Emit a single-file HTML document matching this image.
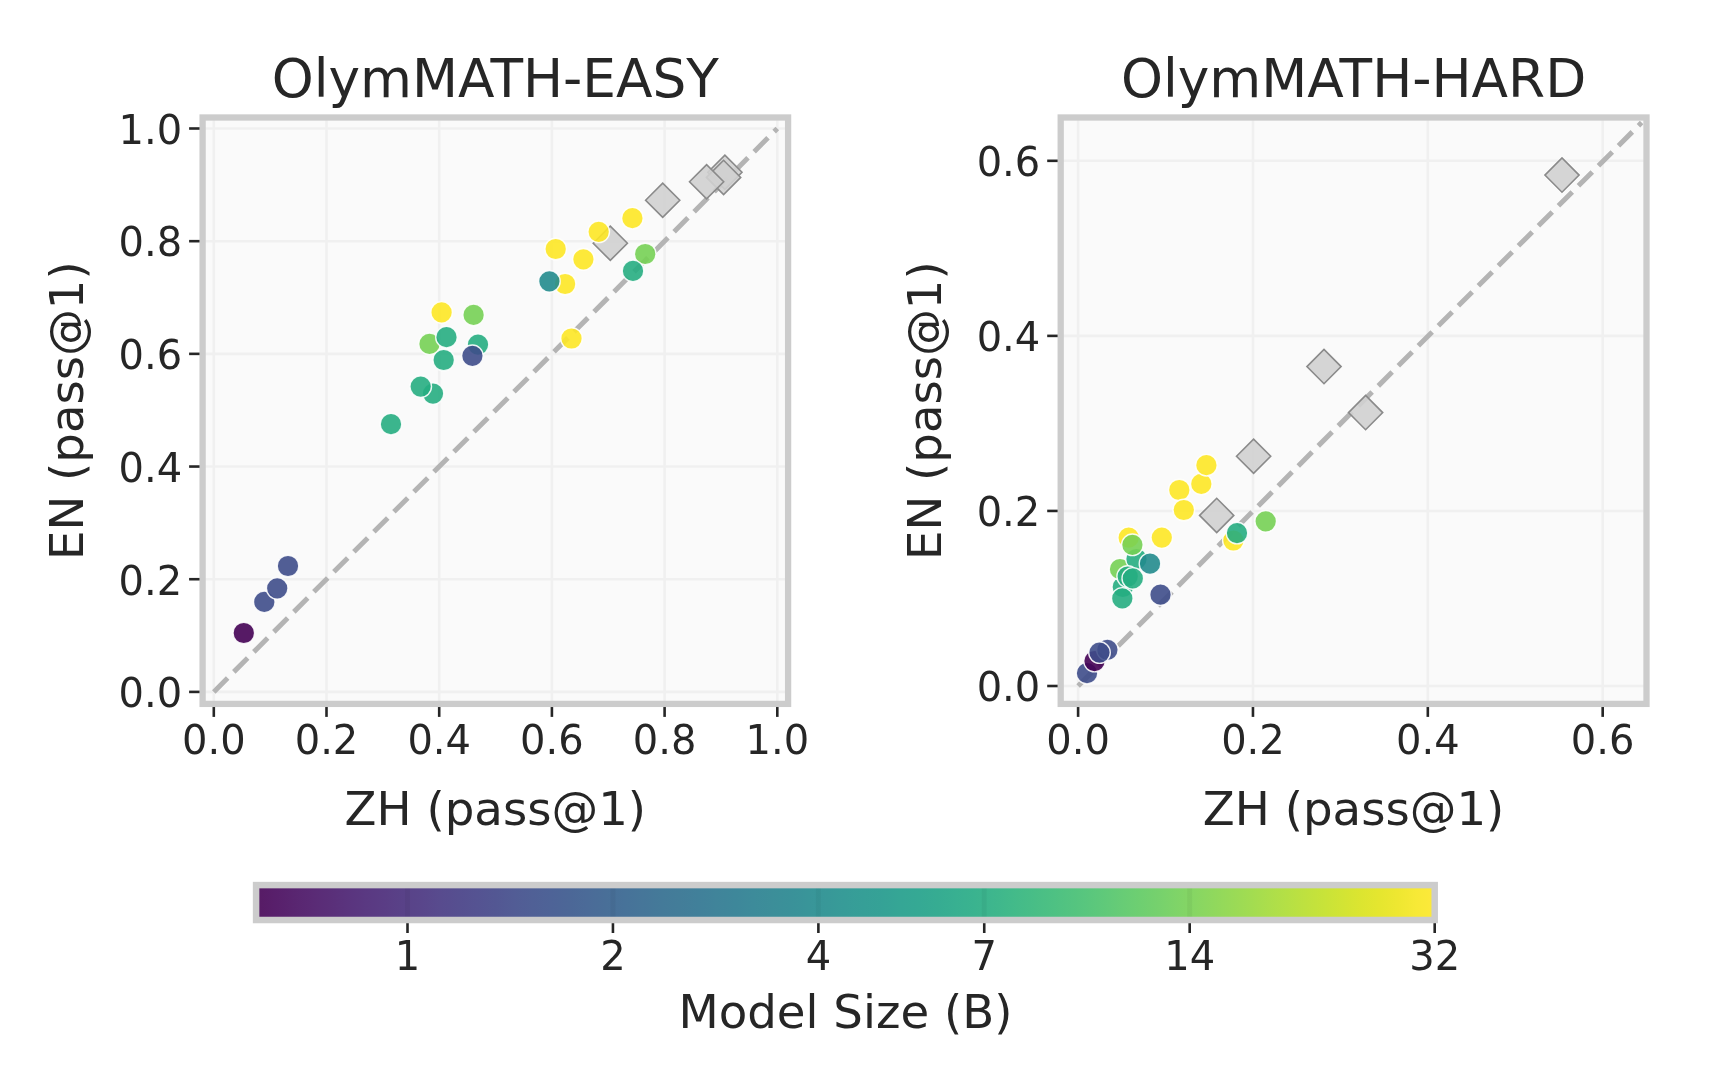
<!DOCTYPE html>
<html><head><meta charset="utf-8"><title>OlymMATH EN vs ZH</title>
<style>html,body{margin:0;padding:0;background:#fff;overflow:hidden;}svg{display:block;will-change:transform;}text{font-family:"DejaVu Sans","Liberation Sans",sans-serif;}</style>
</head><body>
<svg width="1718" height="1072" viewBox="0 0 1718 1072">
<defs>
<clipPath id="cl"><rect x="202.6" y="117.5" width="585.50" height="586.40"/></clipPath>
<clipPath id="cr"><rect x="1060.7" y="117.5" width="585.80" height="586.40"/></clipPath>
<linearGradient id="cb" x1="0" x2="1" y1="0" y2="0"><stop offset="0.0000" stop-color="#571b65"/><stop offset="0.0156" stop-color="#581f6b"/><stop offset="0.0312" stop-color="#592570"/><stop offset="0.0469" stop-color="#5a2a75"/><stop offset="0.0625" stop-color="#5a2f79"/><stop offset="0.0781" stop-color="#5a347e"/><stop offset="0.0938" stop-color="#5a3982"/><stop offset="0.1094" stop-color="#5a3d85"/><stop offset="0.1250" stop-color="#594288"/><stop offset="0.1406" stop-color="#59468b"/><stop offset="0.1562" stop-color="#584b8e"/><stop offset="0.1719" stop-color="#564f90"/><stop offset="0.1875" stop-color="#555392"/><stop offset="0.2031" stop-color="#535793"/><stop offset="0.2188" stop-color="#525c95"/><stop offset="0.2344" stop-color="#506096"/><stop offset="0.2500" stop-color="#4e6397"/><stop offset="0.2656" stop-color="#4c6797"/><stop offset="0.2812" stop-color="#4b6b98"/><stop offset="0.2969" stop-color="#496f98"/><stop offset="0.3125" stop-color="#477299"/><stop offset="0.3281" stop-color="#467699"/><stop offset="0.3438" stop-color="#447a99"/><stop offset="0.3594" stop-color="#437d99"/><stop offset="0.3750" stop-color="#41809a"/><stop offset="0.3906" stop-color="#40849a"/><stop offset="0.4062" stop-color="#3e879a"/><stop offset="0.4219" stop-color="#3d8b9a"/><stop offset="0.4375" stop-color="#3c8e99"/><stop offset="0.4531" stop-color="#3a9199"/><stop offset="0.4688" stop-color="#399599"/><stop offset="0.4844" stop-color="#389898"/><stop offset="0.5000" stop-color="#379c98"/><stop offset="0.5156" stop-color="#369f97"/><stop offset="0.5312" stop-color="#35a296"/><stop offset="0.5469" stop-color="#35a695"/><stop offset="0.5625" stop-color="#35a994"/><stop offset="0.5781" stop-color="#36ac92"/><stop offset="0.5938" stop-color="#38b091"/><stop offset="0.6094" stop-color="#3ab38f"/><stop offset="0.6250" stop-color="#3eb68d"/><stop offset="0.6406" stop-color="#42ba8a"/><stop offset="0.6562" stop-color="#47bd87"/><stop offset="0.6719" stop-color="#4cc084"/><stop offset="0.6875" stop-color="#52c381"/><stop offset="0.7031" stop-color="#58c67e"/><stop offset="0.7188" stop-color="#5fc97a"/><stop offset="0.7344" stop-color="#67cc76"/><stop offset="0.7500" stop-color="#6ecf71"/><stop offset="0.7656" stop-color="#76d16d"/><stop offset="0.7812" stop-color="#7fd468"/><stop offset="0.7969" stop-color="#87d663"/><stop offset="0.8125" stop-color="#90d85d"/><stop offset="0.8281" stop-color="#99da57"/><stop offset="0.8438" stop-color="#a2dc51"/><stop offset="0.8594" stop-color="#acde4b"/><stop offset="0.8750" stop-color="#b5e045"/><stop offset="0.8906" stop-color="#bfe13f"/><stop offset="0.9062" stop-color="#c8e339"/><stop offset="0.9219" stop-color="#d2e434"/><stop offset="0.9375" stop-color="#dce530"/><stop offset="0.9531" stop-color="#e5e62f"/><stop offset="0.9688" stop-color="#eee731"/><stop offset="0.9844" stop-color="#f7e936"/><stop offset="1.0000" stop-color="#fde93b"/></linearGradient>
</defs>
<rect x="0" y="0" width="1718" height="1072" fill="#ffffff"/>
<rect x="202.6" y="117.5" width="585.50" height="586.40" fill="#fafafa"/>
<g clip-path="url(#cl)" stroke="#f0f0f0" stroke-width="2.6">
<line x1="213.80" y1="117.5" x2="213.80" y2="703.9"/>
<line x1="326.50" y1="117.5" x2="326.50" y2="703.9"/>
<line x1="439.20" y1="117.5" x2="439.20" y2="703.9"/>
<line x1="551.90" y1="117.5" x2="551.90" y2="703.9"/>
<line x1="664.60" y1="117.5" x2="664.60" y2="703.9"/>
<line x1="777.30" y1="117.5" x2="777.30" y2="703.9"/>
<line x1="202.6" y1="691.90" x2="788.1" y2="691.90"/>
<line x1="202.6" y1="579.22" x2="788.1" y2="579.22"/>
<line x1="202.6" y1="466.54" x2="788.1" y2="466.54"/>
<line x1="202.6" y1="353.86" x2="788.1" y2="353.86"/>
<line x1="202.6" y1="241.18" x2="788.1" y2="241.18"/>
<line x1="202.6" y1="128.50" x2="788.1" y2="128.50"/>
</g>
<g clip-path="url(#cl)"><line x1="213.80" y1="691.90" x2="777.30" y2="128.50" stroke="#b4b4b4" stroke-width="5" stroke-dasharray="19.6 8.7"/>
<path d="M593.20,243.30L610.30,226.20L627.40,243.30L610.30,260.40Z" fill="#d0d0d0" fill-opacity="0.9" stroke="#8a8a8a" stroke-width="1.6" stroke-linejoin="miter"/>
<path d="M645.60,200.30L662.70,183.20L679.80,200.30L662.70,217.40Z" fill="#d0d0d0" fill-opacity="0.9" stroke="#8a8a8a" stroke-width="1.6" stroke-linejoin="miter"/>
<path d="M707.80,172.30L724.90,155.20L742.00,172.30L724.90,189.40Z" fill="#d0d0d0" fill-opacity="0.9" stroke="#8a8a8a" stroke-width="1.6" stroke-linejoin="miter"/>
<path d="M706.50,177.40L723.60,160.30L740.70,177.40L723.60,194.50Z" fill="#d0d0d0" fill-opacity="0.9" stroke="#8a8a8a" stroke-width="1.6" stroke-linejoin="miter"/>
<path d="M689.50,181.70L706.60,164.60L723.70,181.70L706.60,198.80Z" fill="#d0d0d0" fill-opacity="0.9" stroke="#8a8a8a" stroke-width="1.6" stroke-linejoin="miter"/>
<circle cx="243.80" cy="633.00" r="10.8" fill="rgb(68,1,84)" fill-opacity="0.9" stroke="#ffffff" stroke-opacity="0.9" stroke-width="1.4"/>
<circle cx="264.30" cy="601.90" r="10.8" fill="rgb(62,76,138)" fill-opacity="0.9" stroke="#ffffff" stroke-opacity="0.9" stroke-width="1.4"/>
<circle cx="277.20" cy="588.30" r="10.8" fill="rgb(62,76,138)" fill-opacity="0.9" stroke="#ffffff" stroke-opacity="0.9" stroke-width="1.4"/>
<circle cx="288.00" cy="566.00" r="10.8" fill="rgb(62,76,138)" fill-opacity="0.9" stroke="#ffffff" stroke-opacity="0.9" stroke-width="1.4"/>
<circle cx="391.00" cy="424.20" r="10.8" fill="rgb(38,173,129)" fill-opacity="0.9" stroke="#ffffff" stroke-opacity="0.9" stroke-width="1.4"/>
<circle cx="433.00" cy="393.60" r="10.8" fill="rgb(38,173,129)" fill-opacity="0.9" stroke="#ffffff" stroke-opacity="0.9" stroke-width="1.4"/>
<circle cx="420.70" cy="386.60" r="10.8" fill="rgb(38,173,129)" fill-opacity="0.9" stroke="#ffffff" stroke-opacity="0.9" stroke-width="1.4"/>
<circle cx="443.70" cy="360.00" r="10.8" fill="rgb(38,173,129)" fill-opacity="0.9" stroke="#ffffff" stroke-opacity="0.9" stroke-width="1.4"/>
<circle cx="429.50" cy="343.90" r="10.8" fill="rgb(117,208,84)" fill-opacity="0.9" stroke="#ffffff" stroke-opacity="0.9" stroke-width="1.4"/>
<circle cx="446.50" cy="337.20" r="10.8" fill="rgb(38,173,129)" fill-opacity="0.9" stroke="#ffffff" stroke-opacity="0.9" stroke-width="1.4"/>
<circle cx="441.60" cy="312.40" r="10.8" fill="rgb(253,231,37)" fill-opacity="0.9" stroke="#ffffff" stroke-opacity="0.9" stroke-width="1.4"/>
<circle cx="473.60" cy="314.90" r="10.8" fill="rgb(117,208,84)" fill-opacity="0.9" stroke="#ffffff" stroke-opacity="0.9" stroke-width="1.4"/>
<circle cx="478.00" cy="344.60" r="10.8" fill="rgb(38,173,129)" fill-opacity="0.9" stroke="#ffffff" stroke-opacity="0.9" stroke-width="1.4"/>
<circle cx="472.40" cy="355.80" r="10.8" fill="rgb(62,76,138)" fill-opacity="0.9" stroke="#ffffff" stroke-opacity="0.9" stroke-width="1.4"/>
<circle cx="555.70" cy="249.00" r="10.8" fill="rgb(253,231,37)" fill-opacity="0.9" stroke="#ffffff" stroke-opacity="0.9" stroke-width="1.4"/>
<circle cx="583.40" cy="259.30" r="10.8" fill="rgb(253,231,37)" fill-opacity="0.9" stroke="#ffffff" stroke-opacity="0.9" stroke-width="1.4"/>
<circle cx="598.70" cy="231.80" r="10.8" fill="rgb(253,231,37)" fill-opacity="0.9" stroke="#ffffff" stroke-opacity="0.9" stroke-width="1.4"/>
<circle cx="632.40" cy="218.20" r="10.8" fill="rgb(253,231,37)" fill-opacity="0.9" stroke="#ffffff" stroke-opacity="0.9" stroke-width="1.4"/>
<circle cx="565.10" cy="284.00" r="10.8" fill="rgb(253,231,37)" fill-opacity="0.9" stroke="#ffffff" stroke-opacity="0.9" stroke-width="1.4"/>
<circle cx="549.40" cy="281.30" r="10.8" fill="rgb(34,139,141)" fill-opacity="0.9" stroke="#ffffff" stroke-opacity="0.9" stroke-width="1.4"/>
<circle cx="645.20" cy="254.00" r="10.8" fill="rgb(117,208,84)" fill-opacity="0.9" stroke="#ffffff" stroke-opacity="0.9" stroke-width="1.4"/>
<circle cx="633.00" cy="270.90" r="10.8" fill="rgb(38,173,129)" fill-opacity="0.9" stroke="#ffffff" stroke-opacity="0.9" stroke-width="1.4"/>
<circle cx="571.50" cy="338.50" r="10.8" fill="rgb(253,231,37)" fill-opacity="0.9" stroke="#ffffff" stroke-opacity="0.9" stroke-width="1.4"/>
</g>
<g stroke="#262626" stroke-width="2.6">
<line x1="213.80" y1="703.9" x2="213.80" y2="716.90"/>
<line x1="326.50" y1="703.9" x2="326.50" y2="716.90"/>
<line x1="439.20" y1="703.9" x2="439.20" y2="716.90"/>
<line x1="551.90" y1="703.9" x2="551.90" y2="716.90"/>
<line x1="664.60" y1="703.9" x2="664.60" y2="716.90"/>
<line x1="777.30" y1="703.9" x2="777.30" y2="716.90"/>
<line x1="202.6" y1="691.90" x2="189.10" y2="691.90"/>
<line x1="202.6" y1="579.22" x2="189.10" y2="579.22"/>
<line x1="202.6" y1="466.54" x2="189.10" y2="466.54"/>
<line x1="202.6" y1="353.86" x2="189.10" y2="353.86"/>
<line x1="202.6" y1="241.18" x2="189.10" y2="241.18"/>
<line x1="202.6" y1="128.50" x2="189.10" y2="128.50"/>
</g>
<rect x="202.6" y="117.5" width="585.50" height="586.40" fill="none" stroke="#cccccc" stroke-width="6.3"/>
<g font-family="DejaVu Sans" font-size="40" fill="#262626">
<text x="213.80" y="753.8" text-anchor="middle">0.0</text>
<text x="326.50" y="753.8" text-anchor="middle">0.2</text>
<text x="439.20" y="753.8" text-anchor="middle">0.4</text>
<text x="551.90" y="753.8" text-anchor="middle">0.6</text>
<text x="664.60" y="753.8" text-anchor="middle">0.8</text>
<text x="777.30" y="753.8" text-anchor="middle">1.0</text>
<text x="182.20" y="707.20" text-anchor="end">0.0</text>
<text x="182.20" y="594.52" text-anchor="end">0.2</text>
<text x="182.20" y="481.84" text-anchor="end">0.4</text>
<text x="182.20" y="369.16" text-anchor="end">0.6</text>
<text x="182.20" y="256.48" text-anchor="end">0.8</text>
<text x="182.20" y="143.80" text-anchor="end">1.0</text>
</g>
<text x="495.35" y="97.3" text-anchor="middle" font-family="DejaVu Sans" font-size="53.33" fill="#262626">OlymMATH-EASY</text>
<text x="495.35" y="824.7" text-anchor="middle" font-family="DejaVu Sans" font-size="46.67" fill="#262626">ZH (pass@1)</text>
<text transform="translate(83.10,410.70) rotate(-90)" x="0" y="0" text-anchor="middle" font-family="DejaVu Sans" font-size="46.67" fill="#262626">EN (pass@1)</text>
<rect x="1060.7" y="117.5" width="585.80" height="586.40" fill="#fafafa"/>
<g clip-path="url(#cr)" stroke="#f0f0f0" stroke-width="2.6">
<line x1="1078.10" y1="117.5" x2="1078.10" y2="703.9"/>
<line x1="1252.96" y1="117.5" x2="1252.96" y2="703.9"/>
<line x1="1427.82" y1="117.5" x2="1427.82" y2="703.9"/>
<line x1="1602.68" y1="117.5" x2="1602.68" y2="703.9"/>
<line x1="1060.7" y1="686.00" x2="1646.5" y2="686.00"/>
<line x1="1060.7" y1="510.94" x2="1646.5" y2="510.94"/>
<line x1="1060.7" y1="335.88" x2="1646.5" y2="335.88"/>
<line x1="1060.7" y1="160.82" x2="1646.5" y2="160.82"/>
</g>
<g clip-path="url(#cr)"><line x1="1078.10" y1="686.00" x2="1641.60" y2="122.60" stroke="#b4b4b4" stroke-width="5" stroke-dasharray="19.6 8.7"/>
<path d="M1199.60,515.40L1216.70,498.30L1233.80,515.40L1216.70,532.50Z" fill="#d0d0d0" fill-opacity="0.9" stroke="#8a8a8a" stroke-width="1.6" stroke-linejoin="miter"/>
<path d="M1236.50,456.20L1253.60,439.10L1270.70,456.20L1253.60,473.30Z" fill="#d0d0d0" fill-opacity="0.9" stroke="#8a8a8a" stroke-width="1.6" stroke-linejoin="miter"/>
<path d="M1306.90,366.60L1324.00,349.50L1341.10,366.60L1324.00,383.70Z" fill="#d0d0d0" fill-opacity="0.9" stroke="#8a8a8a" stroke-width="1.6" stroke-linejoin="miter"/>
<path d="M1348.50,412.60L1365.60,395.50L1382.70,412.60L1365.60,429.70Z" fill="#d0d0d0" fill-opacity="0.9" stroke="#8a8a8a" stroke-width="1.6" stroke-linejoin="miter"/>
<path d="M1544.90,175.10L1562.00,158.00L1579.10,175.10L1562.00,192.20Z" fill="#d0d0d0" fill-opacity="0.9" stroke="#8a8a8a" stroke-width="1.6" stroke-linejoin="miter"/>
<circle cx="1087.00" cy="673.20" r="10.8" fill="rgb(62,76,138)" fill-opacity="0.9" stroke="#ffffff" stroke-opacity="0.9" stroke-width="1.4"/>
<circle cx="1094.50" cy="661.10" r="10.8" fill="rgb(68,1,84)" fill-opacity="0.9" stroke="#ffffff" stroke-opacity="0.9" stroke-width="1.4"/>
<circle cx="1107.40" cy="649.80" r="10.8" fill="rgb(62,76,138)" fill-opacity="0.9" stroke="#ffffff" stroke-opacity="0.9" stroke-width="1.4"/>
<circle cx="1099.50" cy="652.60" r="10.8" fill="rgb(62,76,138)" fill-opacity="0.9" stroke="#ffffff" stroke-opacity="0.9" stroke-width="1.4"/>
<circle cx="1160.50" cy="594.70" r="10.8" fill="rgb(62,76,138)" fill-opacity="0.9" stroke="#ffffff" stroke-opacity="0.9" stroke-width="1.4"/>
<circle cx="1122.80" cy="587.00" r="10.8" fill="rgb(38,173,129)" fill-opacity="0.9" stroke="#ffffff" stroke-opacity="0.9" stroke-width="1.4"/>
<circle cx="1122.30" cy="598.40" r="10.8" fill="rgb(38,173,129)" fill-opacity="0.9" stroke="#ffffff" stroke-opacity="0.9" stroke-width="1.4"/>
<circle cx="1120.00" cy="569.20" r="10.8" fill="rgb(117,208,84)" fill-opacity="0.9" stroke="#ffffff" stroke-opacity="0.9" stroke-width="1.4"/>
<circle cx="1136.50" cy="559.00" r="10.8" fill="rgb(38,173,129)" fill-opacity="0.9" stroke="#ffffff" stroke-opacity="0.9" stroke-width="1.4"/>
<circle cx="1127.70" cy="576.50" r="10.8" fill="rgb(38,173,129)" fill-opacity="0.9" stroke="#ffffff" stroke-opacity="0.9" stroke-width="1.4"/>
<circle cx="1132.80" cy="578.40" r="10.8" fill="rgb(38,173,129)" fill-opacity="0.9" stroke="#ffffff" stroke-opacity="0.9" stroke-width="1.4"/>
<circle cx="1150.00" cy="563.70" r="10.8" fill="rgb(34,139,141)" fill-opacity="0.9" stroke="#ffffff" stroke-opacity="0.9" stroke-width="1.4"/>
<circle cx="1128.70" cy="537.70" r="10.8" fill="rgb(253,231,37)" fill-opacity="0.9" stroke="#ffffff" stroke-opacity="0.9" stroke-width="1.4"/>
<circle cx="1132.40" cy="544.80" r="10.8" fill="rgb(117,208,84)" fill-opacity="0.9" stroke="#ffffff" stroke-opacity="0.9" stroke-width="1.4"/>
<circle cx="1161.80" cy="537.60" r="10.8" fill="rgb(253,231,37)" fill-opacity="0.9" stroke="#ffffff" stroke-opacity="0.9" stroke-width="1.4"/>
<circle cx="1179.30" cy="490.00" r="10.8" fill="rgb(253,231,37)" fill-opacity="0.9" stroke="#ffffff" stroke-opacity="0.9" stroke-width="1.4"/>
<circle cx="1183.80" cy="510.00" r="10.8" fill="rgb(253,231,37)" fill-opacity="0.9" stroke="#ffffff" stroke-opacity="0.9" stroke-width="1.4"/>
<circle cx="1201.30" cy="483.90" r="10.8" fill="rgb(253,231,37)" fill-opacity="0.9" stroke="#ffffff" stroke-opacity="0.9" stroke-width="1.4"/>
<circle cx="1206.40" cy="465.20" r="10.8" fill="rgb(253,231,37)" fill-opacity="0.9" stroke="#ffffff" stroke-opacity="0.9" stroke-width="1.4"/>
<circle cx="1233.40" cy="540.50" r="10.8" fill="rgb(253,231,37)" fill-opacity="0.9" stroke="#ffffff" stroke-opacity="0.9" stroke-width="1.4"/>
<circle cx="1237.00" cy="533.10" r="10.8" fill="rgb(38,173,129)" fill-opacity="0.9" stroke="#ffffff" stroke-opacity="0.9" stroke-width="1.4"/>
<circle cx="1265.70" cy="521.30" r="10.8" fill="rgb(117,208,84)" fill-opacity="0.9" stroke="#ffffff" stroke-opacity="0.9" stroke-width="1.4"/>
</g>
<g stroke="#262626" stroke-width="2.6">
<line x1="1078.10" y1="703.9" x2="1078.10" y2="716.90"/>
<line x1="1252.96" y1="703.9" x2="1252.96" y2="716.90"/>
<line x1="1427.82" y1="703.9" x2="1427.82" y2="716.90"/>
<line x1="1602.68" y1="703.9" x2="1602.68" y2="716.90"/>
<line x1="1060.7" y1="686.00" x2="1047.20" y2="686.00"/>
<line x1="1060.7" y1="510.94" x2="1047.20" y2="510.94"/>
<line x1="1060.7" y1="335.88" x2="1047.20" y2="335.88"/>
<line x1="1060.7" y1="160.82" x2="1047.20" y2="160.82"/>
</g>
<rect x="1060.7" y="117.5" width="585.80" height="586.40" fill="none" stroke="#cccccc" stroke-width="6.3"/>
<g font-family="DejaVu Sans" font-size="40" fill="#262626">
<text x="1078.10" y="753.8" text-anchor="middle">0.0</text>
<text x="1252.96" y="753.8" text-anchor="middle">0.2</text>
<text x="1427.82" y="753.8" text-anchor="middle">0.4</text>
<text x="1602.68" y="753.8" text-anchor="middle">0.6</text>
<text x="1040.30" y="701.30" text-anchor="end">0.0</text>
<text x="1040.30" y="526.24" text-anchor="end">0.2</text>
<text x="1040.30" y="351.18" text-anchor="end">0.4</text>
<text x="1040.30" y="176.12" text-anchor="end">0.6</text>
</g>
<text x="1353.60" y="97.3" text-anchor="middle" font-family="DejaVu Sans" font-size="53.33" fill="#262626">OlymMATH-HARD</text>
<text x="1353.60" y="824.7" text-anchor="middle" font-family="DejaVu Sans" font-size="46.67" fill="#262626">ZH (pass@1)</text>
<text transform="translate(941.20,410.70) rotate(-90)" x="0" y="0" text-anchor="middle" font-family="DejaVu Sans" font-size="46.67" fill="#262626">EN (pass@1)</text>
<rect x="256.1" y="885.1" width="1178.60" height="34.90" fill="url(#cb)"/>
<rect x="405.00" y="885.1" width="5" height="34.90" fill="#000" fill-opacity="0.04"/>
<rect x="610.44" y="885.1" width="5" height="34.90" fill="#000" fill-opacity="0.04"/>
<rect x="815.88" y="885.1" width="5" height="34.90" fill="#000" fill-opacity="0.04"/>
<rect x="981.74" y="885.1" width="5" height="34.90" fill="#000" fill-opacity="0.04"/>
<rect x="1187.18" y="885.1" width="5" height="34.90" fill="#000" fill-opacity="0.04"/>
<g stroke="#262626" stroke-width="2.6">
<line x1="407.50" y1="920.0" x2="407.50" y2="933.00"/>
<line x1="612.94" y1="920.0" x2="612.94" y2="933.00"/>
<line x1="818.38" y1="920.0" x2="818.38" y2="933.00"/>
<line x1="984.24" y1="920.0" x2="984.24" y2="933.00"/>
<line x1="1189.68" y1="920.0" x2="1189.68" y2="933.00"/>
<line x1="1434.70" y1="920.0" x2="1434.70" y2="933.00"/>
</g>
<rect x="256.1" y="885.1" width="1178.60" height="34.90" fill="none" stroke="#cccccc" stroke-width="6.5"/>
<g font-family="DejaVu Sans" font-size="40" fill="#262626" text-anchor="middle">
<text x="407.50" y="969.8">1</text>
<text x="612.94" y="969.8">2</text>
<text x="818.38" y="969.8">4</text>
<text x="984.24" y="969.8">7</text>
<text x="1189.68" y="969.8">14</text>
<text x="1434.70" y="969.8">32</text>
</g>
<text x="845.40" y="1028" text-anchor="middle" font-family="DejaVu Sans" font-size="46.67" fill="#262626">Model Size (B)</text>
</svg>
</body></html>
